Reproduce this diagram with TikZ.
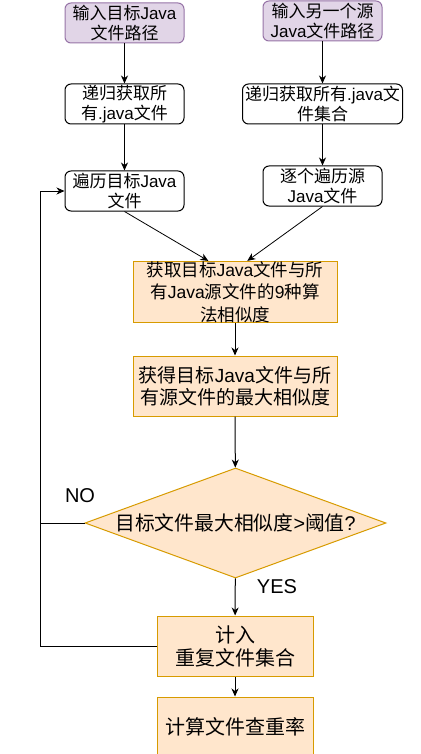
\documentclass[tikz,border=0pt]{standalone}
\usepackage{fontspec}
\setmainfont{Noto Sans CJK SC}
\newfontfamily\latn{Liberation Sans}
\definecolor{purplefill}{HTML}{E1D5E7}
\definecolor{purpleline}{HTML}{9673A6}
\definecolor{orangefill}{HTML}{FFE6CC}
\definecolor{orangeline}{HTML}{D79B00}
\usepackage{tikz}
\usetikzlibrary{arrows.meta,positioning,shapes.geometric,calc}
\newcommand{\en}[1]{{\latn #1}}

\begin{document}
\begin{tikzpicture}[x=1pt,y=-1pt,
  inbox/.style={draw=purpleline,fill=purplefill,rounded corners=6pt,line width=1pt,
                minimum width=119pt,minimum height=40pt,inner sep=0pt,
                font=\fontsize{17}{20}\selectfont,align=center},
  plain/.style={draw=black,fill=white,rounded corners=6pt,line width=1pt,
                minimum width=119pt,minimum height=40pt,inner sep=0pt,
                font=\fontsize{17}{20}\selectfont,align=center},
  work/.style={draw=orangeline,fill=orangefill,line width=1pt,
               minimum width=204pt,minimum height=60pt,inner sep=0pt,
               font=\fontsize{19}{22}\selectfont,align=center},
  arr/.style={-{Stealth[length=8pt,width=7pt,inset=2.5pt]},line width=1pt,black}
]
  \useasboundingbox (0,0) rectangle (420,754);
  % inputs
  \node[inbox] (in1) at (124.5,23) {输入目标\en{Java}\\文件路径};
  \node[inbox] (in2) at (322.5,21) {输入另一个源\\\en{Java}文件路径};
  % collect files
  \node[plain] (rec1) at (124.5,104) {递归获取所\\有\en{.java}文件};
  \node[plain,minimum width=160pt] (rec2) at (322.5,104) {递归获取所有\en{.java}文\\件集合};
  % traverse
  \node[plain] (trav1) at (124.5,191) {遍历目标\en{Java}\\文件};
  \node[plain] (trav2) at (322.5,186) {逐个遍历源\\\en{Java}文件};
  % similarity
  \node[work,font=\fontsize{17.5}{22.5}\selectfont] (sim) at (235,292)
    {获取目标\en{Java}文件与所\\有\en{Java}源文件的\en{9}种算\\法相似度};
  \node[work] (maxs) at (235,386) {获得目标\en{Java}文件与所\\有源文件的最大相似度};
  % decision
  \node[draw=orangeline,fill=orangefill,line width=1pt,diamond,aspect=2.74,
        minimum width=301pt,minimum height=110pt,inner sep=0pt,
        font=\fontsize{19.8}{23}\selectfont] (dec) at (235.5,523) {目标文件最大相似度\en{>}阈值\en{?}};
  \node[work,minimum width=156pt,font=\fontsize{20}{23}\selectfont] (incl) at (235,646) {计入\\重复文件集合};
  \node[work,minimum width=156pt,font=\fontsize{20}{23}\selectfont] (rate) at (235,727) {计算文件查重率};
  % loop corner
  \coordinate (loop) at (40,646);
  % Arrows
  \draw[arr] (in1) -- (rec1);
  \draw[arr] (in2) -- (rec2);
  \draw[arr] (rec1) -- (trav1);
  \draw[arr] (rec2) -- (trav2);
  \draw[arr,line width=0.8pt] (trav1.south) -- ($(sim.north west)!0.37!(sim.north east)$);
  \draw[arr,line width=0.8pt] (trav2.south) -- ($(sim.north west)!0.56!(sim.north east)$);
  \draw[arr] (sim) -- (maxs);
  \draw[arr] (maxs) -- (dec);
  \draw[arr] (dec) -- (incl);
  \draw[arr] (incl) -- (rate);
  \draw[arr] (incl.west) -- (loop) |- (trav1.west);
  \draw[line width=1pt] (dec.west) -- (dec.west -| loop);
  % labels
  \node[font=\latn\fontsize{20}{23}\selectfont] (no) at (80,496) {NO};
  \node[font=\latn\fontsize{20}{23}\selectfont] (yes) at (277,587) {YES};
\end{tikzpicture}
\end{document}
